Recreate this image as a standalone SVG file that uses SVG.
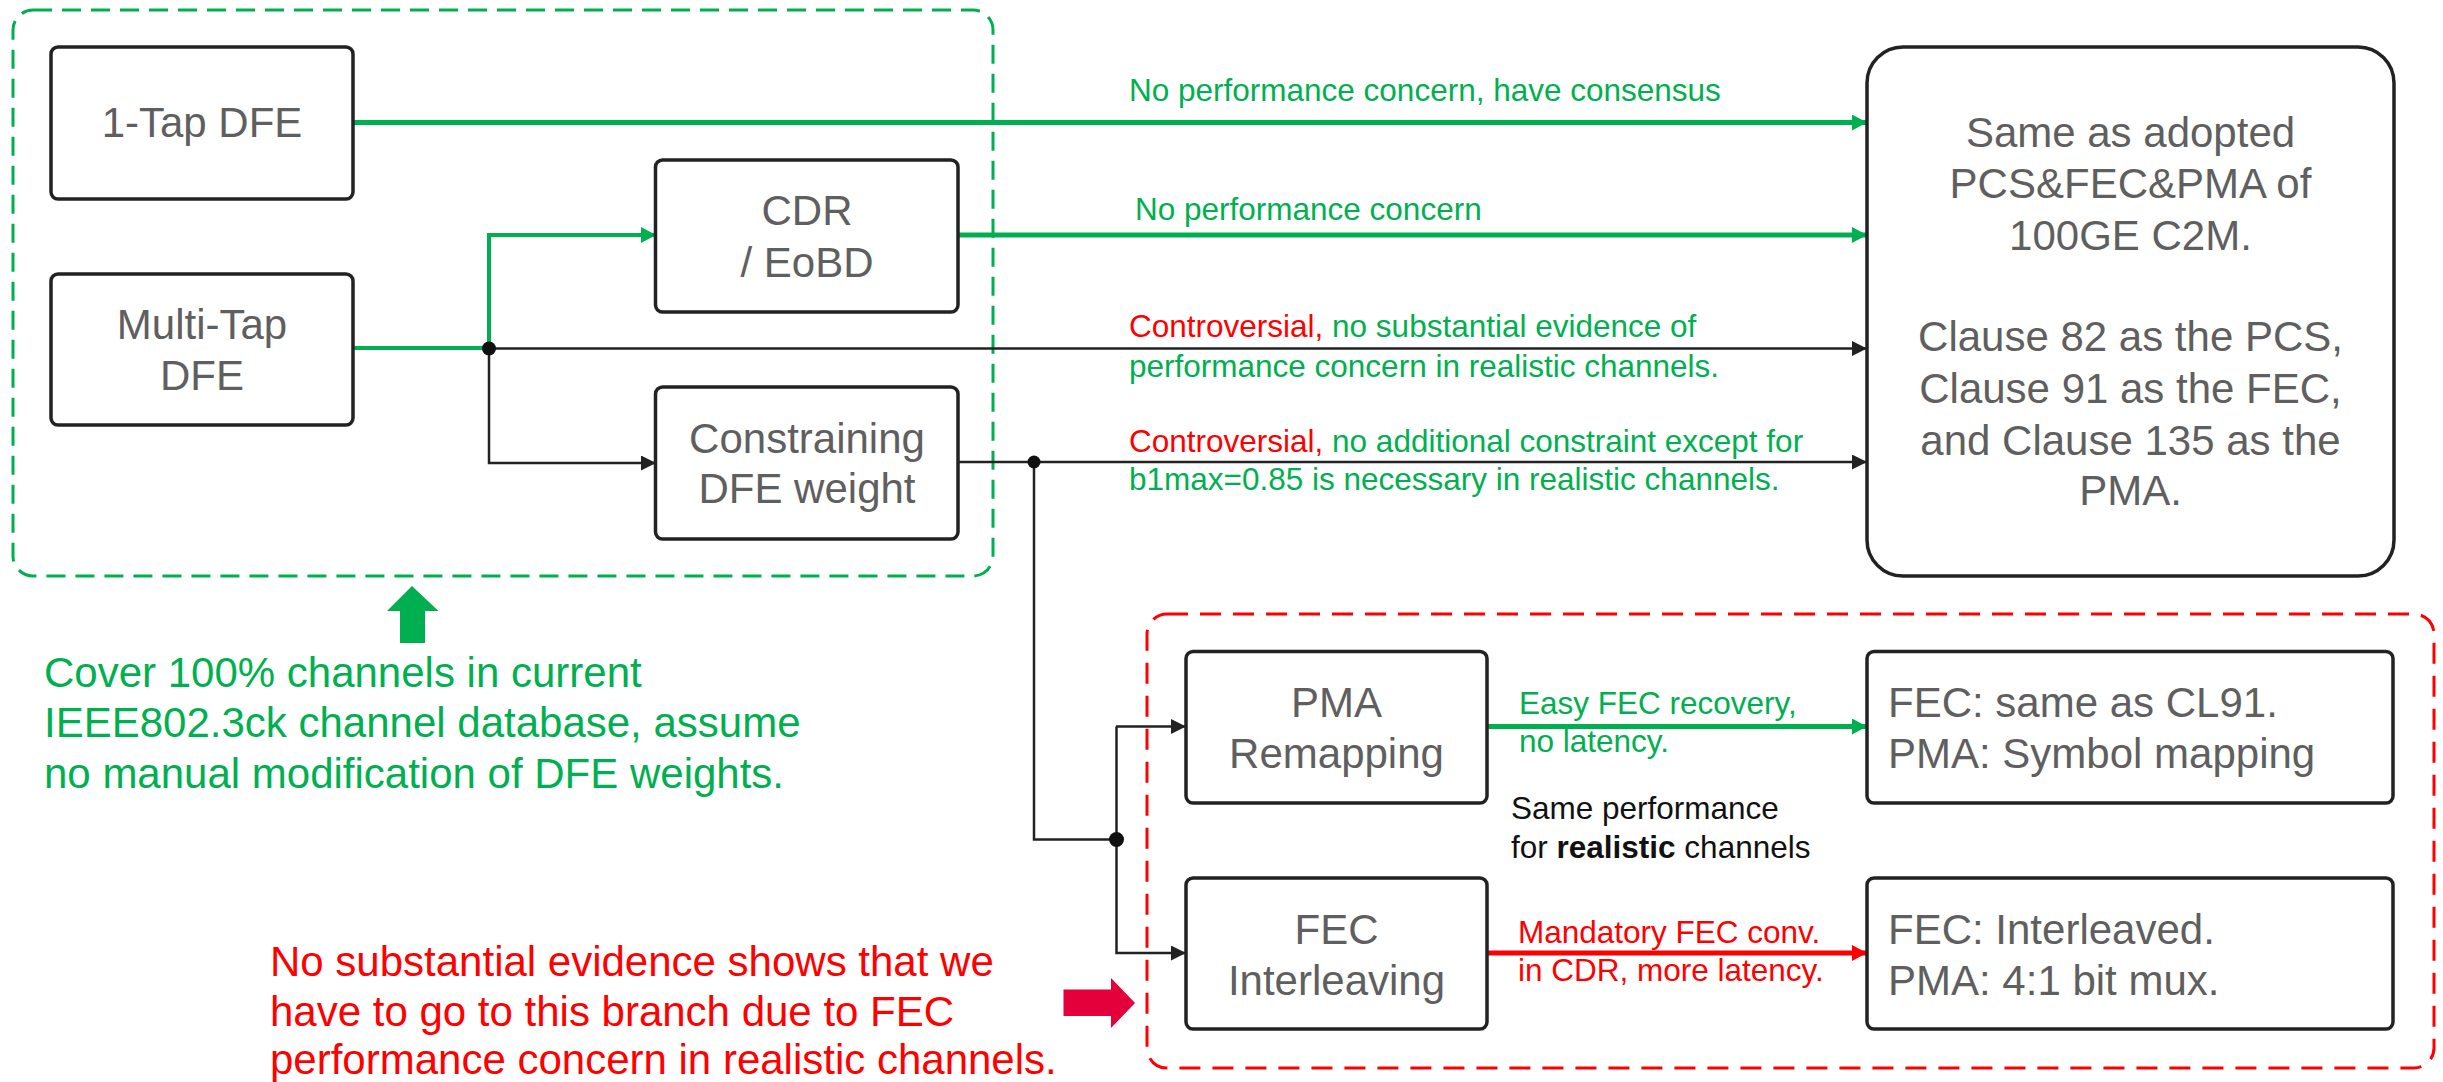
<svg xmlns="http://www.w3.org/2000/svg" width="2443" height="1082" viewBox="0 0 2443 1082">
<style>
.box{fill:#fff;stroke:#222;stroke-width:3.5}
.bt{font-family:"Liberation Sans",Arial,sans-serif;font-size:42px;fill:#5f5f5f;text-anchor:middle}
.btl{font-family:"Liberation Sans",Arial,sans-serif;font-size:42px;fill:#5f5f5f}
.lbl{font-family:"Liberation Sans",Arial,sans-serif;font-size:31.5px}
.g{fill:#00b050}
.r{fill:#ff0000}
.k{fill:#111}
.big{font-family:"Liberation Sans",Arial,sans-serif;font-size:42px}
.gl{stroke:#00b050;stroke-width:5;fill:none}
.gl2{stroke:#00b050;stroke-width:4;fill:none}
.bl{stroke:#222;stroke-width:2.5;fill:none}
.rl{stroke:#ff0000;stroke-width:5;fill:none}
.dot{fill:#111}
</style>
<defs>
<marker id="agL" viewBox="0 0 15 16" refX="14" refY="8" markerWidth="15" markerHeight="16" orient="auto" markerUnits="userSpaceOnUse"><path d="M0,0 L15,8 L0,16 z" fill="#00b050"/></marker>
<marker id="akL" viewBox="0 0 15 15" refX="14" refY="7.5" markerWidth="15" markerHeight="15" orient="auto" markerUnits="userSpaceOnUse"><path d="M0,0 L15,7.5 L0,15 z" fill="#222"/></marker>
<marker id="arL" viewBox="0 0 15 16" refX="14" refY="8" markerWidth="15" markerHeight="16" orient="auto" markerUnits="userSpaceOnUse"><path d="M0,0 L15,8 L0,16 z" fill="#ff0000"/></marker>
</defs>

<g id="group-green">
<rect x="13" y="10" width="980" height="566" rx="20" fill="none" stroke="#00b050" stroke-width="3" stroke-dasharray="19 10"/>
</g>
<g id="group-red">
<rect x="1147" y="614" width="1287" height="454" rx="20" fill="none" stroke="#ff0000" stroke-width="3" stroke-dasharray="21 12"/>
</g>

<g id="connectors">
<line class="gl" x1="353" y1="122.5" x2="1866" y2="122.5" marker-end="url(#agL)"/>
<polyline class="gl2" points="353,348 489,348 489,235 655,235" marker-end="url(#agL)"/>
<line class="bl" x1="489" y1="348.5" x2="1866" y2="348.5" marker-end="url(#akL)"/>
<polyline class="bl" points="489,348 489,463 655,463" marker-end="url(#akL)"/>
<line class="gl" x1="958" y1="235" x2="1866" y2="235" marker-end="url(#agL)"/>
<line class="bl" x1="958" y1="462" x2="1866" y2="462" marker-end="url(#akL)"/>
<polyline class="bl" points="1034,462 1034,839.5 1116,839.5"/>
<polyline class="bl" points="1116.5,726.5 1116.5,953 1185,953" marker-end="url(#akL)"/>
<line class="bl" x1="1116" y1="726.5" x2="1185" y2="726.5" marker-end="url(#akL)"/>
<line class="gl" x1="1487" y1="726.5" x2="1866" y2="726.5" marker-end="url(#agL)"/>
<line class="rl" x1="1487" y1="953" x2="1866" y2="953" marker-end="url(#arL)"/>
<circle class="dot" cx="489" cy="348.5" r="7"/>
<circle class="dot" cx="1034" cy="462" r="6.5"/>
<circle class="dot" cx="1116.5" cy="839.5" r="7.5"/>

<text class="lbl g" x="1129" y="101">No performance concern, have consensus</text>
<text class="lbl g" x="1135" y="220">No performance concern</text>
<text class="lbl g" x="1129" y="337"><tspan class="r">Controversial,</tspan> no substantial evidence of</text>
<text class="lbl g" x="1129" y="377">performance concern in realistic channels.</text>
<text class="lbl g" x="1129" y="451.5"><tspan class="r">Controversial,</tspan> no additional constraint except for</text>
<text class="lbl g" x="1129" y="490">b1max=0.85 is necessary in realistic channels.</text>
<text class="lbl g" x="1519" y="714">Easy FEC recovery,</text>
<text class="lbl g" x="1519" y="751.5">no latency.</text>
<text class="lbl k" x="1511" y="819">Same performance</text>
<text class="lbl k" x="1511" y="858">for <tspan font-weight="bold">realistic</tspan> channels</text>
<text class="lbl r" x="1518" y="943">Mandatory FEC conv.</text>
<text class="lbl r" x="1518" y="981">in CDR, more latency.</text>
</g>

<g id="n-1tap">
<rect class="box" x="51" y="47" width="302" height="152" rx="7"/>
<text class="bt" x="202" y="137">1-Tap DFE</text>
</g>
<g id="n-multitap">
<rect class="box" x="51" y="274" width="302" height="151" rx="7"/>
<text class="bt" x="202" y="339">Multi-Tap</text>
<text class="bt" x="202" y="390">DFE</text>
</g>
<g id="n-cdr">
<rect class="box" x="655.5" y="160" width="302.5" height="152" rx="7"/>
<text class="bt" x="807" y="225">CDR</text>
<text class="bt" x="807" y="277">/ EoBD</text>
</g>
<g id="n-constraining">
<rect class="box" x="655.5" y="387" width="302.5" height="152" rx="7"/>
<text class="bt" x="807" y="453">Constraining</text>
<text class="bt" x="807" y="503">DFE weight</text>
</g>
<g id="n-adopted">
<rect class="box" x="1867" y="47" width="527" height="529" rx="36"/>
<text class="bt" x="2130.5" y="147">Same as adopted</text>
<text class="bt" x="2130.5" y="198">PCS&amp;FEC&amp;PMA of</text>
<text class="bt" x="2130.5" y="249.5">100GE C2M.</text>
<text class="bt" x="2130.5" y="351">Clause 82 as the PCS,</text>
<text class="bt" x="2130.5" y="402.5">Clause 91 as the FEC,</text>
<text class="bt" x="2130.5" y="454.5">and Clause 135 as the</text>
<text class="bt" x="2130.5" y="505">PMA.</text>
</g>
<g id="n-pma-remap">
<rect class="box" x="1186" y="651.5" width="301" height="151.5" rx="7"/>
<text class="bt" x="1336.5" y="716.5">PMA</text>
<text class="bt" x="1336.5" y="768">Remapping</text>
</g>
<g id="n-fec-int">
<rect class="box" x="1186" y="878" width="301" height="151" rx="7"/>
<text class="bt" x="1336.5" y="943.5">FEC</text>
<text class="bt" x="1336.5" y="994.5">Interleaving</text>
</g>
<g id="n-fec-cl91">
<rect class="box" x="1867" y="651.5" width="526" height="151.5" rx="7"/>
<text class="btl" x="1888" y="716.5">FEC: same as CL91.</text>
<text class="btl" x="1888" y="768">PMA: Symbol mapping</text>
</g>
<g id="n-fec-interleaved">
<rect class="box" x="1867" y="878" width="526" height="151" rx="7"/>
<text class="btl" x="1888" y="943.5">FEC: Interleaved.</text>
<text class="btl" x="1888" y="994.5">PMA: 4:1 bit mux.</text>
</g>

<g id="note-green">
<polygon points="412,586 438.5,611 425,611 425,643 400,643 400,611 387,611" fill="#00b050"/>
<text class="big g" x="44" y="686.5">Cover 100% channels in current</text>
<text class="big g" x="44" y="736.5">IEEE802.3ck channel database, assume</text>
<text class="big g" x="44" y="788">no manual modification of DFE weights.</text>
</g>
<g id="note-red">
<polygon points="1063.5,989.5 1111,989.5 1111,978 1135,1003 1111,1028 1111,1016 1063.5,1016" fill="#e4003a"/>
<text class="big r" x="270" y="976">No substantial evidence shows that we</text>
<text class="big r" x="270" y="1026">have to go to this branch due to FEC</text>
<text class="big r" x="270" y="1074">performance concern in realistic channels.</text>
</g>
</svg>
